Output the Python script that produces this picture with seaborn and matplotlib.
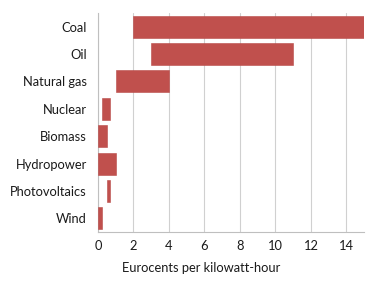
import numpy as np
import pandas as pd
import matplotlib
matplotlib.use('Agg')
import matplotlib.pyplot as plt
import seaborn as sns

# 발전원별 비용 범위 (Eurocents per kWh)
sources = ['Coal', 'Oil', 'Natural gas', 'Nuclear', 'Biomass',
           'Hydropower', 'Photovoltaics', 'Wind']
low = [2.0, 3.0, 1.0, 0.25, 0.0, 0.0, 0.5, 0.0]
high = [15.0, 11.0, 4.0, 0.7, 0.5, 1.0, 0.7, 0.25]
xticks = [0, 2, 4, 6, 8, 10, 12, 14]

df = pd.DataFrame({'source': sources, 'low': low, 'high': high})
df['span'] = df['high'] - df['low']

sns.set_style('white')
plt.rcParams['font.family'] = ['Lato', 'DejaVu Sans']
plt.rcParams['font.size'] = 9.3

fig = plt.figure(figsize=(3.92, 2.82), dpi=100)
ax = fig.add_axes([0.25, 0.177, 0.679, 0.777])

sns.barplot(data=df, y='source', x='span', orient='h', order=sources,
            color='#C0504D', saturation=1, width=0.8,
            left=df['low'].values, edgecolor='#B84B48', linewidth=0.4,
            zorder=3, ax=ax)

ax.set_xlim(0, 15)
ax.set_ylim(len(sources) - 0.5, -0.5)
ax.set_xticks(xticks)
ax.grid(axis='x', color='#D0D0D0', linewidth=0.8, zorder=0)
ax.grid(axis='y', visible=False)

for s in ['top', 'right']:
    ax.spines[s].set_visible(False)
for s in ['left', 'bottom']:
    ax.spines[s].set_color('#BFBFBF')
    ax.spines[s].set_linewidth(0.8)

# 카테고리 경계에 눈금
ax.set_yticks(np.arange(-0.5, len(sources), 1), minor=True)
ax.tick_params(axis='y', which='minor', length=5, color='#BFBFBF', width=0.8)
ax.tick_params(axis='y', which='major', length=0, pad=8, labelcolor='#1a1a1a')
ax.tick_params(axis='x', which='major', length=0, pad=6, labelcolor='#1a1a1a')

ax.set_ylabel('')
ax.set_xlabel('Eurocents per kilowatt-hour', color='#1a1a1a')
ax.xaxis.set_label_coords(0.387, -0.135)

fig.savefig('out.png', dpi=100)
